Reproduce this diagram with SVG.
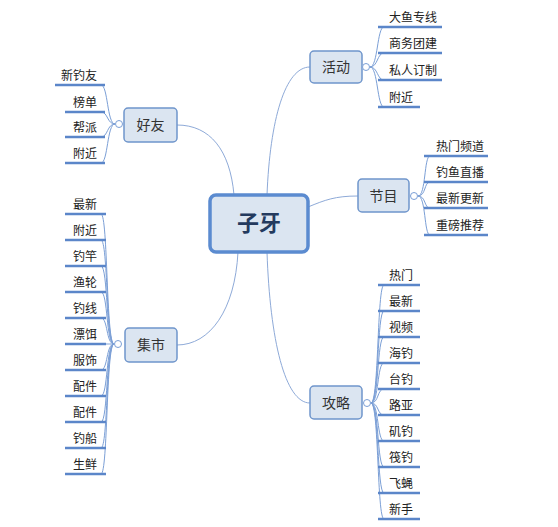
<svg xmlns="http://www.w3.org/2000/svg" width="558" height="527" viewBox="0 0 558 527">
<style>
.bg{fill:#fff}
.node rect{fill:#dbe5f1;stroke:#6f95cb;stroke-width:1.5}
.node text{font-family:"Noto Sans CJK SC","Noto Sans",sans-serif;font-size:14px;fill:#333;text-anchor:middle}
.center rect{fill:#dbe5f1;stroke:#5b8bd0;stroke-width:3.5}
.center text{font-family:"Noto Sans CJK SC","Noto Sans",sans-serif;font-size:22px;font-weight:bold;fill:#243a5e;text-anchor:middle}
.conn path{fill:none;stroke:#8eaad8;stroke-width:1}
.br path{fill:none;stroke:#7b9fd6;stroke-width:1}
.ul{stroke:#5b86c9;stroke-width:2.5}
.lbl{font-family:"Noto Sans CJK SC","Noto Sans",sans-serif;font-size:12px;fill:#222}
.lblL{font-family:"Noto Sans CJK SC","Noto Sans",sans-serif;font-size:12px;fill:#222;text-anchor:end}
.knob{fill:#fff;stroke:#7b9fd6;stroke-width:1}
</style>
<rect class="bg" width="558" height="527"/>
<g id="connectors" class="conn">
<path d="M267,195 C270,120 285,67 310,67"/>
<path d="M234,195 C230,150 210,125 177,125"/>
<path d="M308,207 C325,200 335,196 358,196"/>
<path d="M238,252 C235,310 210,345 177,345"/>
<path d="M267,252 C270,340 285,403 310,403"/>
</g>
<g id="branches" class="br">
<path d="M370,67 C378,67 377,27 384,27"/>
<path d="M370,67 C378,67 377,53 384,53"/>
<path d="M370,67 C378,67 377,80 384,80"/>
<path d="M370,67 C378,67 377,107 384,107"/>
<path d="M418,196 C426,196 424,156 430,156"/>
<path d="M418,196 C426,196 424,182 430,182"/>
<path d="M418,196 C426,196 424,208 430,208"/>
<path d="M418,196 C426,196 424,235 430,235"/>
<path d="M371,403 C379,403 377,285 384,285"/>
<path d="M371,403 C379,403 377,311 384,311"/>
<path d="M371,403 C379,403 377,337 384,337"/>
<path d="M371,403 C379,403 377,363 384,363"/>
<path d="M371,403 C379,403 377,389 384,389"/>
<path d="M371,403 C379,403 377,415 384,415"/>
<path d="M371,403 C379,403 377,441 384,441"/>
<path d="M371,403 C379,403 377,467 384,467"/>
<path d="M371,403 C379,403 377,493 384,493"/>
<path d="M371,403 C379,403 377,519 384,519"/>
<path d="M115,124 C107,124 108,85 101,85"/>
<path d="M115,124 C107,124 108,112 101,112"/>
<path d="M115,124 C107,124 108,137 101,137"/>
<path d="M115,124 C107,124 108,163 101,163"/>
<path d="M114,344 C106,344 108,214 101,214"/>
<path d="M114,344 C106,344 108,240 101,240"/>
<path d="M114,344 C106,344 108,266 101,266"/>
<path d="M114,344 C106,344 108,292 101,292"/>
<path d="M114,344 C106,344 108,318 101,318"/>
<path d="M114,344 C106,344 108,344 101,344"/>
<path d="M114,344 C106,344 108,370 101,370"/>
<path d="M114,344 C106,344 108,396 101,396"/>
<path d="M114,344 C106,344 108,422 101,422"/>
<path d="M114,344 C106,344 108,448 101,448"/>
<path d="M114,344 C106,344 108,474 101,474"/>
</g>
<g id="center" class="center"><rect x="210" y="195" width="98" height="57" rx="6"/><text x="259" y="231">子牙</text></g>
<g id="huodong" class="node"><rect x="310" y="51" width="52" height="32" rx="4"/><text x="336" y="72">活动</text><circle class="knob" cx="366" cy="67" r="3.5"/></g>
<g id="jiemu" class="node"><rect x="358" y="179" width="51" height="33" rx="4"/><text x="383.5" y="201">节目</text><circle class="knob" cx="414" cy="196" r="3.5"/></g>
<g id="gonglve" class="node"><rect x="310" y="386" width="52" height="33" rx="4"/><text x="336" y="408">攻略</text><circle class="knob" cx="367" cy="403" r="3.5"/></g>
<g id="haoyou" class="node"><rect x="124" y="108" width="53" height="34" rx="4"/><text x="150.5" y="130">好友</text><circle class="knob" cx="119" cy="124" r="3.5"/></g>
<g id="jishi" class="node"><rect x="125" y="328" width="52" height="34" rx="4"/><text x="151" y="350">集市</text><circle class="knob" cx="118" cy="344" r="3.5"/></g>
<g id="huodong-items">
<line class="ul" x1="378" y1="27" x2="442" y2="27"/><text class="lbl" x="389" y="22">大鱼专线</text>
<line class="ul" x1="378" y1="53" x2="442" y2="53"/><text class="lbl" x="389" y="48">商务团建</text>
<line class="ul" x1="378" y1="80" x2="442" y2="80"/><text class="lbl" x="389" y="75">私人订制</text>
<line class="ul" x1="378" y1="107" x2="420" y2="107"/><text class="lbl" x="389" y="102">附近</text>
</g>
<g id="jiemu-items">
<line class="ul" x1="424" y1="156" x2="488" y2="156"/><text class="lbl" x="436" y="151">热门频道</text>
<line class="ul" x1="424" y1="182" x2="488" y2="182"/><text class="lbl" x="436" y="177">钓鱼直播</text>
<line class="ul" x1="424" y1="208" x2="488" y2="208"/><text class="lbl" x="436" y="203">最新更新</text>
<line class="ul" x1="424" y1="235" x2="488" y2="235"/><text class="lbl" x="436" y="230">重磅推荐</text>
</g>
<g id="gonglve-items">
<line class="ul" x1="378" y1="285" x2="420" y2="285"/><text class="lbl" x="389" y="280">热门</text>
<line class="ul" x1="378" y1="311" x2="420" y2="311"/><text class="lbl" x="389" y="306">最新</text>
<line class="ul" x1="378" y1="337" x2="420" y2="337"/><text class="lbl" x="389" y="332">视频</text>
<line class="ul" x1="378" y1="363" x2="420" y2="363"/><text class="lbl" x="389" y="358">海钓</text>
<line class="ul" x1="378" y1="389" x2="420" y2="389"/><text class="lbl" x="389" y="384">台钓</text>
<line class="ul" x1="378" y1="415" x2="420" y2="415"/><text class="lbl" x="389" y="410">路亚</text>
<line class="ul" x1="378" y1="441" x2="420" y2="441"/><text class="lbl" x="389" y="436">矶钓</text>
<line class="ul" x1="378" y1="467" x2="420" y2="467"/><text class="lbl" x="389" y="462">筏钓</text>
<line class="ul" x1="378" y1="493" x2="420" y2="493"/><text class="lbl" x="389" y="488">飞蝇</text>
<line class="ul" x1="378" y1="519" x2="420" y2="519"/><text class="lbl" x="389" y="514">新手</text>
</g>
<g id="haoyou-items">
<line class="ul" x1="55" y1="85" x2="105" y2="85"/><text class="lblL" x="97" y="80">新钓友</text>
<line class="ul" x1="65" y1="112" x2="105" y2="112"/><text class="lblL" x="97" y="107">榜单</text>
<line class="ul" x1="65" y1="137" x2="105" y2="137"/><text class="lblL" x="97" y="132">帮派</text>
<line class="ul" x1="65" y1="163" x2="105" y2="163"/><text class="lblL" x="97" y="158">附近</text>
</g>
<g id="jishi-items">
<line class="ul" x1="65" y1="214" x2="106" y2="214"/><text class="lblL" x="97" y="209">最新</text>
<line class="ul" x1="65" y1="240" x2="106" y2="240"/><text class="lblL" x="97" y="235">附近</text>
<line class="ul" x1="65" y1="266" x2="106" y2="266"/><text class="lblL" x="97" y="261">钓竿</text>
<line class="ul" x1="65" y1="292" x2="106" y2="292"/><text class="lblL" x="97" y="287">渔轮</text>
<line class="ul" x1="65" y1="318" x2="106" y2="318"/><text class="lblL" x="97" y="313">钓线</text>
<line class="ul" x1="65" y1="344" x2="106" y2="344"/><text class="lblL" x="97" y="339">漂饵</text>
<line class="ul" x1="65" y1="370" x2="106" y2="370"/><text class="lblL" x="97" y="365">服饰</text>
<line class="ul" x1="65" y1="396" x2="106" y2="396"/><text class="lblL" x="97" y="391">配件</text>
<line class="ul" x1="65" y1="422" x2="106" y2="422"/><text class="lblL" x="97" y="417">配件</text>
<line class="ul" x1="65" y1="448" x2="106" y2="448"/><text class="lblL" x="97" y="443">钓船</text>
<line class="ul" x1="65" y1="474" x2="106" y2="474"/><text class="lblL" x="97" y="469">生鲜</text>
</g>
</svg>
